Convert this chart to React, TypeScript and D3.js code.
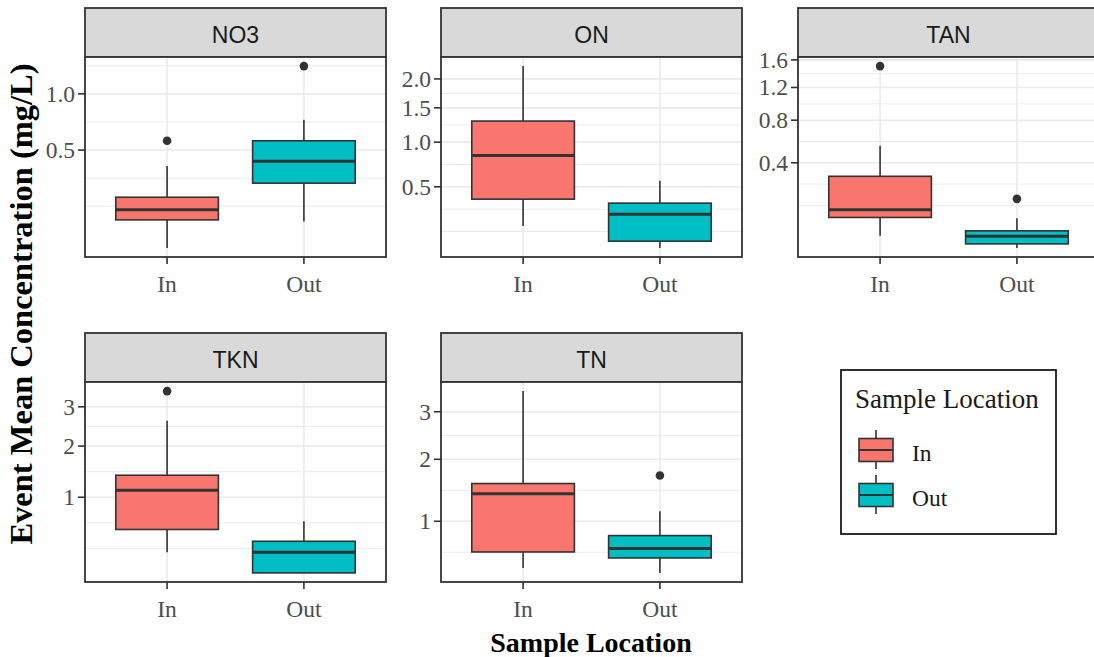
import React from "react";
import * as d3 from "d3";

// Facets and sample locations
const facetNames = ["NO3", "ON", "TAN", "TKN", "TN"];
const locations = ["In", "Out"];
const locationColors = ["#F8766D", "#00BFC4"];

// Box statistics per facet: [ymin, lower, middle, upper, ymax] (mg/L)
const no3In = [0.039, 0.118, 0.157, 0.213, 0.39];
const no3Out = [0.112, 0.286, 0.421, 0.571, 0.748];
const onIn = [0.203, 0.392, 0.831, 1.295, 2.245];
const onOut = [0.094, 0.123, 0.278, 0.36, 0.558];
const tanIn = [0.034, 0.088, 0.118, 0.302, 0.543];
const tanOut = [0.012, 0.018, 0.033, 0.046, 0.085];
const tknIn = [0.307, 0.546, 1.115, 1.388, 2.625];
const tknOut = [0.15, 0.15, 0.307, 0.414, 0.65];
const tnIn = [0.473, 0.632, 1.4, 1.568, 3.497];
const tnOut = [0.429, 0.57, 0.668, 0.818, 1.138];

// Outlying points per facet (mg/L)
const no3InOutliers = [0.571];
const no3OutOutliers = [1.31];
const onInOutliers: number[] = [];
const onOutOutliers: number[] = [];
const tanInOutliers = [1.505];
const tanOutOutliers = [0.169];
const tknInOutliers = [3.457];
const tknOutOutliers: number[] = [];
const tnInOutliers: number[] = [];
const tnOutOutliers = [1.705];

// Y-axis breaks per facet
const no3Breaks = [0.5, 1.0];
const onBreaks = [0.5, 1.0, 1.5, 2.0];
const tanBreaks = [0.4, 0.8, 1.2, 1.6];
const tknBreaks = [1, 2, 3];
const tnBreaks = [1, 2, 3];
const no3Labels = ["0.5", "1.0"];
const onLabels = ["0.5", "1.0", "1.5", "2.0"];
const tanLabels = ["0.4", "0.8", "1.2", "1.6"];
const tknLabels = ["1", "2", "3"];
const tnLabels = ["1", "2", "3"];

const facetStats = [
  [no3In, no3Out],
  [onIn, onOut],
  [tanIn, tanOut],
  [tknIn, tknOut],
  [tnIn, tnOut],
];
const facetOutliers = [
  [no3InOutliers, no3OutOutliers],
  [onInOutliers, onOutOutliers],
  [tanInOutliers, tanOutOutliers],
  [tknInOutliers, tknOutOutliers],
  [tnInOutliers, tnOutOutliers],
];
const facetBreaks = [no3Breaks, onBreaks, tanBreaks, tknBreaks, tnBreaks];
const facetLabels = [no3Labels, onLabels, tanLabels, tknLabels, tnLabels];

// Layout
const W = 1094;
const H = 657;
const colLefts = [85, 441, 798];
const panelW = 301;
const stripTops = [8, 333];
const stripH = 49;
const panelH = 200;

const serif = "'Liberation Serif', 'Times New Roman', serif";
const sans = "'Liberation Sans', Arial, sans-serif";
const dark = "#333333";
const gridColor = "#EBEBEB";
const tickFont = 23.5;

// Minor breaks in transformed (sqrt) space, one between each pair of majors
function minorBreaks(majorsT: number[], lo: number, hi: number) {
  let b = majorsT.slice();
  const bd = b[1] - b[0];
  if (lo < b[0]) b = [b[0] - bd, ...b];
  if (hi > b[b.length - 1]) b = [...b, b[b.length - 1] + bd];
  const out: number[] = [];
  for (let i = 0; i < b.length - 1; i++) {
    out.push(b[i], (b[i] + b[i + 1]) / 2);
  }
  out.push(b[b.length - 1]);
  return out.filter((v) => v >= lo && v <= hi);
}

function Facet({ index }: { index: number }) {
  const col = index % 3;
  const row = Math.floor(index / 3);
  const left = colLefts[col];
  const stripTop = stripTops[row];
  const top = stripTop + stripH;
  const bottom = top + panelH;

  const stats = facetStats[index];
  const outliers = facetOutliers[index];
  const all = [...stats[0], ...stats[1], ...outliers[0], ...outliers[1]];
  const sLo = Math.sqrt(d3.min(all) as number);
  const sHi = Math.sqrt(d3.max(all) as number);
  const pad = (sHi - sLo) * 0.05;
  const tLo = Math.max(0, sLo - pad);
  const tHi = sHi + pad;

  const y = d3
    .scaleSqrt()
    .domain([tLo * tLo, tHi * tHi])
    .range([bottom, top]);
  // linear scale in sqrt units, used for the minor grid
  const yt = d3.scaleLinear().domain([tLo, tHi]).range([bottom, top]);

  const unit = panelW / 2.2;
  const xc = (k: string) => left + (0.6 + locations.indexOf(k)) * unit;
  const boxW = 0.75 * unit;

  const breaks = facetBreaks[index];
  const labels = facetLabels[index];
  const minors = minorBreaks(
    breaks.map((b) => Math.sqrt(b)),
    tLo,
    tHi
  );

  return (
    <g>
      {/* strip */}
      <rect
        x={left}
        y={stripTop}
        width={panelW}
        height={stripH}
        fill="#D9D9D9"
        stroke={dark}
        strokeWidth={1.8}
      />
      <text
        x={left + panelW / 2}
        y={stripTop + 35}
        textAnchor="middle"
        fontFamily={sans}
        fontSize={23}
        fill="#1A1A1A"
      >
        {facetNames[index]}
      </text>

      {/* panel */}
      <rect x={left} y={top} width={panelW} height={panelH} fill="white" />
      <g>
        {minors.map((m, i) => (
          <line
            key={"mi" + i}
            x1={left}
            x2={left + panelW}
            y1={yt(m)}
            y2={yt(m)}
            stroke={gridColor}
            strokeWidth={1}
          />
        ))}
        {breaks.map((b, i) => (
          <line
            key={"ma" + i}
            x1={left}
            x2={left + panelW}
            y1={y(b)}
            y2={y(b)}
            stroke={gridColor}
            strokeWidth={1.6}
          />
        ))}
        {locations.map((k) => (
          <line
            key={"vx" + k}
            x1={xc(k)}
            x2={xc(k)}
            y1={top}
            y2={bottom}
            stroke={gridColor}
            strokeWidth={1.6}
          />
        ))}
      </g>

      {/* boxes */}
      {locations.map((k, j) => {
        const [lo, q1, med, q3, hi] = stats[j];
        const cx = xc(k);
        return (
          <g key={"box" + k}>
            <line x1={cx} x2={cx} y1={y(q3)} y2={y(hi)} stroke={dark} strokeWidth={1.6} />
            <line x1={cx} x2={cx} y1={y(q1)} y2={y(lo)} stroke={dark} strokeWidth={1.6} />
            <rect
              x={cx - boxW / 2}
              y={y(q3)}
              width={boxW}
              height={Math.max(0, y(q1) - y(q3))}
              fill={locationColors[j]}
              stroke={dark}
              strokeWidth={1.6}
            />
            <line
              x1={cx - boxW / 2}
              x2={cx + boxW / 2}
              y1={y(med)}
              y2={y(med)}
              stroke={dark}
              strokeWidth={3}
            />
            {outliers[j].map((o, i) => (
              <circle key={i} cx={cx} cy={y(o)} r={4.3} fill={dark} />
            ))}
          </g>
        );
      })}

      {/* border */}
      <rect
        x={left}
        y={top}
        width={panelW}
        height={panelH}
        fill="none"
        stroke={dark}
        strokeWidth={1.8}
      />

      {/* y axis */}
      {breaks.map((b, i) => (
        <g key={"yt" + i}>
          <line x1={left - 7} x2={left} y1={y(b)} y2={y(b)} stroke={dark} strokeWidth={1.6} />
          <text
            x={left - 10}
            y={y(b)}
            dy="0.34em"
            textAnchor="end"
            fontFamily={serif}
            fontSize={tickFont}
            fill="#4D4D4D"
          >
            {labels[i]}
          </text>
        </g>
      ))}

      {/* x axis */}
      {locations.map((k) => (
        <g key={"xt" + k}>
          <line x1={xc(k)} x2={xc(k)} y1={bottom} y2={bottom + 7} stroke={dark} strokeWidth={1.6} />
          <text
            x={xc(k)}
            y={bottom + 35}
            textAnchor="middle"
            fontFamily={serif}
            fontSize={tickFont}
            fill="#4D4D4D"
          >
            {k}
          </text>
        </g>
      ))}
    </g>
  );
}

function Legend() {
  const lx = 841;
  const ly = 370;
  const keyX = 859;
  const keyW = 34;
  const rows = [450, 495];
  return (
    <g>
      <rect x={lx} y={ly} width={215} height={164} fill="white" stroke="#1A1A1A" strokeWidth={1.8} />
      <text x={855} y={408} fontFamily={serif} fontSize={27} fill="#1A1A1A">
        Sample Location
      </text>
      {locations.map((k, j) => {
        const cy = rows[j];
        const cx = keyX + keyW / 2;
        return (
          <g key={k}>
            <line x1={cx} x2={cx} y1={cy - 20} y2={cy + 19} stroke={dark} strokeWidth={1.6} />
            <rect
              x={keyX}
              y={cy - 11.5}
              width={keyW}
              height={23}
              fill={locationColors[j]}
              stroke={dark}
              strokeWidth={1.6}
            />
            <line x1={keyX} x2={keyX + keyW} y1={cy} y2={cy} stroke={dark} strokeWidth={1.8} />
            <text x={912} y={cy + 11} fontFamily={serif} fontSize={tickFont} fill="#1A1A1A">
              {k}
            </text>
          </g>
        );
      })}
    </g>
  );
}

export default function App() {
  return (
    <svg
      width={W}
      height={H}
      style={{ position: "absolute", left: 0, top: 0, background: "white" }}
    >
      <rect x={0} y={0} width={W} height={H} fill="white" />
      {facetNames.map((_, i) => (
        <Facet key={i} index={i} />
      ))}
      <Legend />
      <text
        transform="translate(32,304) rotate(-90)"
        textAnchor="middle"
        fontFamily={serif}
        fontWeight="bold"
        fontSize={32.5}
        fill="#000"
      >
        Event Mean Concentration (mg/L)
      </text>
      <text
        x={591}
        y={652}
        textAnchor="middle"
        fontFamily={serif}
        fontWeight="bold"
        fontSize={28}
        fill="#000"
      >
        Sample Location
      </text>
    </svg>
  );
}
